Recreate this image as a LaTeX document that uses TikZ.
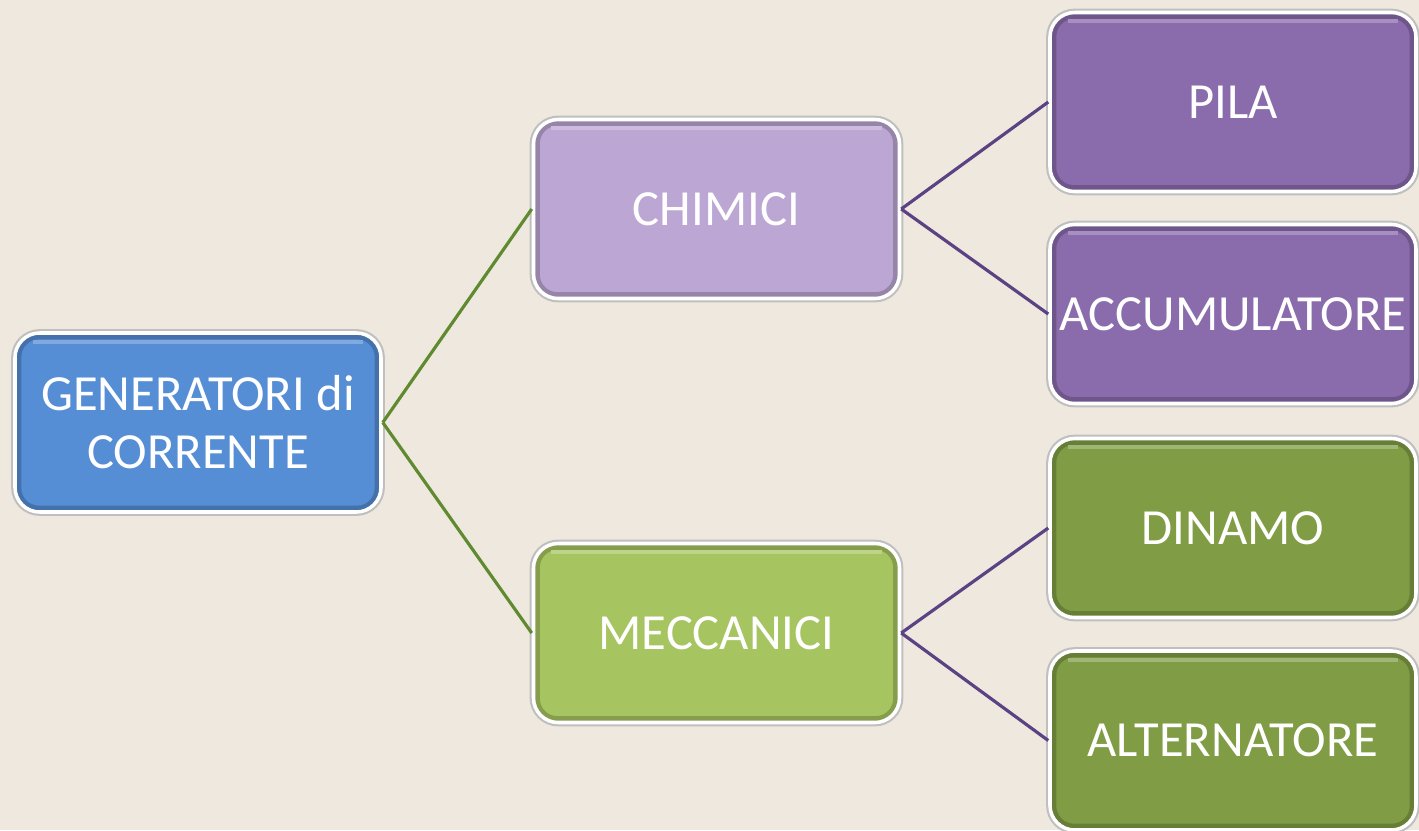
\documentclass[tikz,border=0pt]{standalone}
\usepackage{fontspec}
\setmainfont{Carlito}
\usetikzlibrary{positioning}
\definecolor{fundo}{HTML}{EEE8DF}
\definecolor{azul}{HTML}{558ED5}
\definecolor{lilas}{HTML}{BCA6D3}
\definecolor{roxo}{HTML}{8A6BAC}
\definecolor{verdeclaro}{HTML}{A6C460}
\definecolor{verde}{HTML}{809D45}
\definecolor{linhaverde}{HTML}{5F8A2F}
\definecolor{linharoxa}{HTML}{5B4283}
\tikzset{
  caixa/.style={rectangle, rounded corners=7pt, minimum width=3.66cm, minimum height=1.79cm,
    inner sep=0pt, fill=#1, draw=white, line width=1pt, text=white, align=center,
    font=\fontsize{14.4}{16.5}\selectfont,
    preaction={draw=black!25, line width=2.2pt},
    path picture={\draw[#1!80!black, line width=2pt, rounded corners=6pt]
      ([shift={(0.8pt,0.8pt)}]path picture bounding box.south west) rectangle
      ([shift={(-0.8pt,-0.8pt)}]path picture bounding box.north east);
      \draw[#1!75!white, line width=1.2pt]
      ([shift={(5pt,-2.5pt)}]path picture bounding box.north west) --
      ([shift={(-5pt,-2.5pt)}]path picture bounding box.north east);}},
}
\begin{document}
\begin{tikzpicture}

        % Fundo
        \fill[fundo] (0,0) rectangle (14.19,8.30);
        \useasboundingbox (0,0) rectangle (14.19,8.30);

        % Definindo caixas
        \foreach \pos/\name/\cor/\texto in {{(1.98,4.075)/gen/azul/{GENERATORI di\\CORRENTE}},
                                            {(7.165,6.21)/chim/lilas/CHIMICI}, {(7.165,1.97)/mecc/verdeclaro/MECCANICI},
                                            {(12.33,7.28)/pila/roxo/PILA}, {(12.33,5.16)/accu/roxo/ACCUMULATORE},
                                            {(12.33,3.02)/dina/verde/DINAMO}, {(12.33,0.895)/alte/verde/ALTERNATORE}}
            \node[caixa=\cor] (\name) at \pos {\texto};

        % Definindo ligacoes
        \foreach \source/\target/\cor in {gen/chim/linhaverde, gen/mecc/linhaverde,
                                          chim/pila/linharoxa, chim/accu/linharoxa,
                                          mecc/dina/linharoxa, mecc/alte/linharoxa}
            \draw[\cor, line width=0.9pt] (\source.east) -- (\target.west);

    \end{tikzpicture}
\end{document}
